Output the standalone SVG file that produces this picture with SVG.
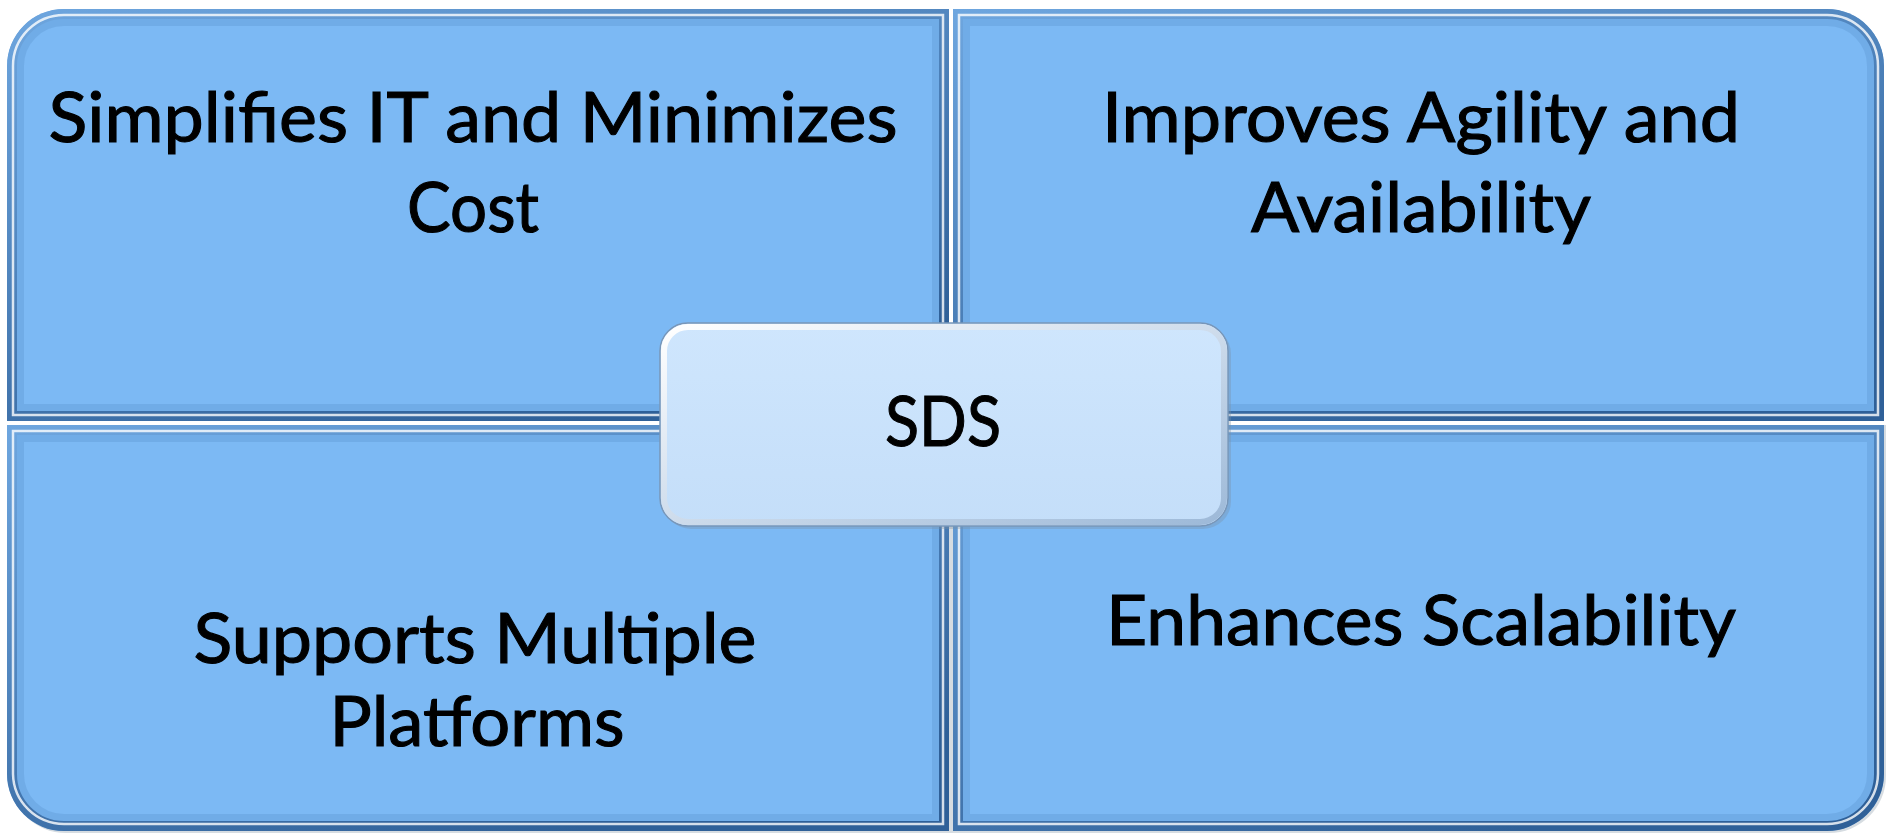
<svg xmlns="http://www.w3.org/2000/svg" width="1888" height="835" viewBox="0 0 1888 835">
<style>
.lbl{font-family:Lato,"Open Sans","Liberation Sans",sans-serif;font-size:69px;fill:#000;stroke:#000;stroke-width:1.1;text-anchor:middle}
.fill{fill:#7CB9F4}
.band{fill:none;stroke:url(#edgeGrad);stroke-width:20}
.soft{fill:none;stroke:#4A80BA;stroke-width:34;opacity:0.22}
.hi{fill:none;stroke:#FFFFFF;stroke-width:2.5;opacity:0.8}
.shadow{fill:#8A9AAA;opacity:0.35}
</style>
<defs>
<linearGradient id="edgeGrad" x1="0" y1="0" x2="0.6" y2="1">
<stop offset="0" stop-color="#6EA6DF"/>
<stop offset="1" stop-color="#2F6098"/>
</linearGradient>
<linearGradient id="sdsFill" x1="0" y1="0" x2="0" y2="1">
<stop offset="0" stop-color="#CFE6FD"/>
<stop offset="1" stop-color="#C4DEF9"/>
</linearGradient>
<linearGradient id="sdsEdge" x1="0" y1="0" x2="1" y2="1">
<stop offset="0" stop-color="#FFFFFF"/>
<stop offset="1" stop-color="#9DB9D8"/>
</linearGradient>
<clipPath id="cTL"><path d="M7,421 V66 A57,57 0 0 1 64,9 H949 V421 Z"/></clipPath>
<clipPath id="cTR"><path d="M953,9 H1827 A57,57 0 0 1 1884,66 V421 H953 Z"/></clipPath>
<clipPath id="cBL"><path d="M7,425 H949 V831 H64 A57,57 0 0 1 7,774 Z"/></clipPath>
<clipPath id="cBR"><path d="M953,425 H1884 V774 A57,57 0 0 1 1827,831 H953 Z"/></clipPath>
</defs>
<rect width="1888" height="835" fill="#FFFFFF"/>
<path class="shadow" d="M9,425 H1886 V776 A57,57 0 0 1 1829,833 H66 A57,57 0 0 1 9,776 Z"/>

<g id="node-simplifies">
<g clip-path="url(#cTL)">
<path class="fill" d="M7,421 V66 A57,57 0 0 1 64,9 H949 V421 Z"/>
<path class="soft" d="M7,421 V66 A57,57 0 0 1 64,9 H949 V421 Z"/>
<path class="band" d="M7,421 V66 A57,57 0 0 1 64,9 H949 V421 Z"/>
<path class="hi" d="M13,415 V66 A51,51 0 0 1 64,15 H943 V415 Z"/>
</g>
<text class="lbl" x="473" y="142" textLength="849" lengthAdjust="spacingAndGlyphs">Simplifies IT and Minimizes</text>
<text class="lbl" x="473" y="232" textLength="132" lengthAdjust="spacingAndGlyphs">Cost</text>
</g>

<g id="node-agility">
<g clip-path="url(#cTR)">
<path class="fill" d="M953,9 H1827 A57,57 0 0 1 1884,66 V421 H953 Z"/>
<path class="soft" d="M953,9 H1827 A57,57 0 0 1 1884,66 V421 H953 Z"/>
<path class="band" d="M953,9 H1827 A57,57 0 0 1 1884,66 V421 H953 Z"/>
<path class="hi" d="M959,15 H1827 A51,51 0 0 1 1878,66 V415 H959 Z"/>
</g>
<text class="lbl" x="1421" y="142" textLength="638" lengthAdjust="spacingAndGlyphs">Improves Agility and</text>
<text class="lbl" x="1421" y="232" textLength="340" lengthAdjust="spacingAndGlyphs">Availability</text>
</g>

<g id="node-platforms">
<g clip-path="url(#cBL)">
<path class="fill" d="M7,425 H949 V831 H64 A57,57 0 0 1 7,774 Z"/>
<path class="soft" d="M7,425 H949 V831 H64 A57,57 0 0 1 7,774 Z"/>
<path class="band" d="M7,425 H949 V831 H64 A57,57 0 0 1 7,774 Z"/>
<path class="hi" d="M13,431 H943 V824 H64 A51,51 0 0 1 13,774 Z"/>
</g>
<text class="lbl" x="475" y="663" textLength="563" lengthAdjust="spacingAndGlyphs">Supports Multiple</text>
<text class="lbl" x="477" y="746" textLength="295" lengthAdjust="spacingAndGlyphs">Platforms</text>
</g>

<g id="node-scalability">
<g clip-path="url(#cBR)">
<path class="fill" d="M953,425 H1884 V774 A57,57 0 0 1 1827,831 H953 Z"/>
<path class="soft" d="M953,425 H1884 V774 A57,57 0 0 1 1827,831 H953 Z"/>
<path class="band" d="M953,425 H1884 V774 A57,57 0 0 1 1827,831 H953 Z"/>
<path class="hi" d="M959,431 H1878 V774 A51,51 0 0 1 1827,824 H959 Z"/>
</g>
<text class="lbl" x="1421" y="645" textLength="630" lengthAdjust="spacingAndGlyphs">Enhances Scalability</text>
</g>

<g id="connectors"></g>

<g id="node-sds">
<rect x="663" y="326" width="568" height="203" rx="28" fill="#7C8FA3" opacity="0.35"/>
<rect x="660" y="323" width="568" height="203" rx="28" fill="url(#sdsFill)" stroke="#7896B8" stroke-width="1.5"/>
<rect x="664" y="327" width="560" height="195" rx="24" fill="none" stroke="url(#sdsEdge)" stroke-width="6"/>
<text class="lbl" x="943" y="446" textLength="116" lengthAdjust="spacingAndGlyphs">SDS</text>
</g>
</svg>
